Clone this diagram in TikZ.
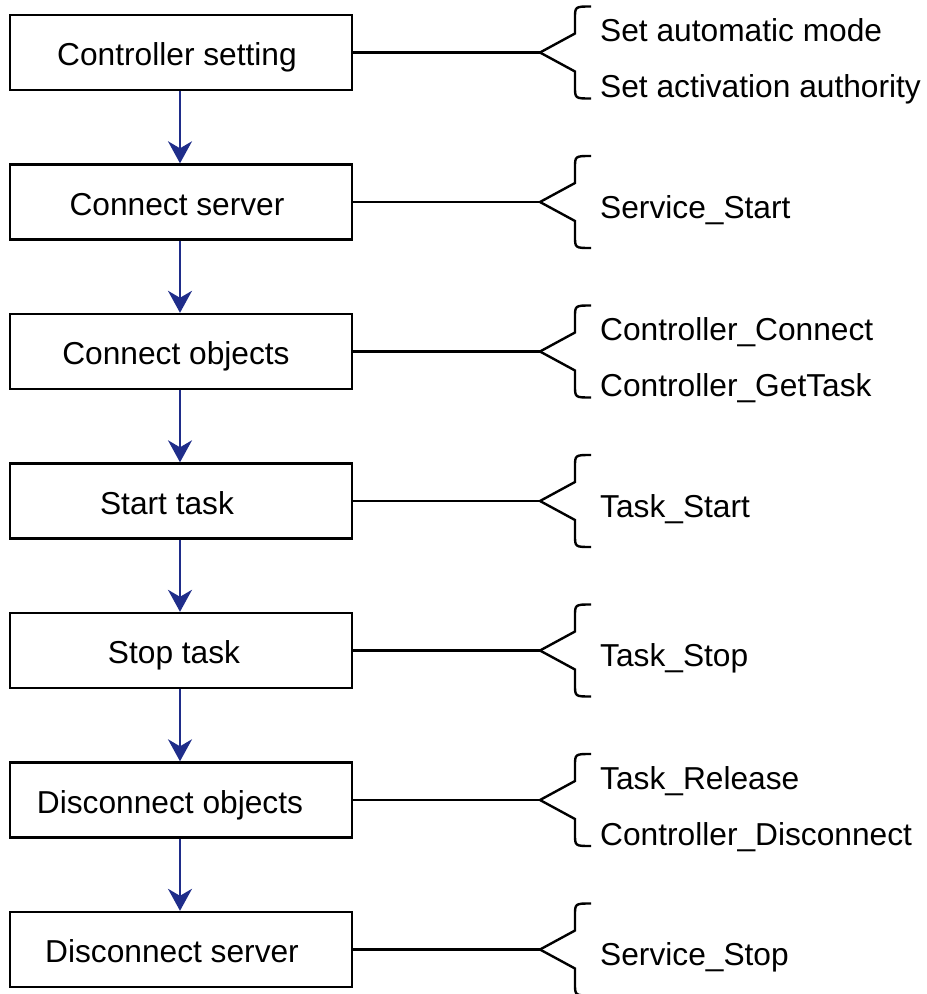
\documentclass[tikz,border=0pt]{standalone}
\usepackage{fontspec}
\setmainfont{Liberation Sans}
\usetikzlibrary{arrows.meta}
\definecolor{arrowblue}{HTML}{1F2D8A}
\begin{document}
\begin{tikzpicture}[x=1pt,y=-1pt,
  box/.style={draw=black,line width=2.4pt,minimum width=342pt,minimum height=75pt,inner sep=0pt},
  lbl/.style={font=\fontsize{31.7}{38}\selectfont,anchor=base,inner sep=0pt},
  item/.style={font=\fontsize{31.7}{38}\selectfont,anchor=base west,inner sep=0pt},
  flow/.style={draw=arrowblue,line width=2pt,-{Stealth[length=22pt,width=24pt,inset=7pt]}},
  link/.style={draw=black,line width=2.4pt},
  brace/.style={draw=black,line width=2.4pt,line join=miter}]
\useasboundingbox (0,0) rectangle (927,994);
\foreach \i/\c in {1/52.5,2/202,3/351.5,4/501,5/650.5,6/800,7/949.5}{
  \node[box] (b\i) at (181,\c) {};
  \coordinate (t\i) at (540,\c);
  \draw[brace] (t\i) -- ++(35,-19) -- ++(0,-15) .. controls ++(0,-12) .. ++(16,-12);
  \draw[brace] (t\i) -- ++(35,19) -- ++(0,15) .. controls ++(0,12) .. ++(16,12);
  \draw[link] (b\i.east) -- (t\i);
}
\node[lbl] (l1) at (177,65.5) {Controller setting};
\node[lbl] (l2) at (177,215) {Connect server};
\node[lbl] (l3) at (176,364.5) {Connect objects};
\node[lbl] (l4) at (167,514) {Start task};
\node[lbl] (l5) at (174,663.5) {Stop task};
\node[lbl] (l6) at (170,813) {Disconnect objects};
\node[lbl] (l7) at (172,962.5) {Disconnect server};
\node[item] (i1a) at (600,41.5) {Set automatic mode};
\node[item] (i1b) at (600,97.5) {Set activation authority};
\node[item] (i2) at (600,218) {Service\_Start};
\node[item] (i3a) at (600,340.5) {Controller\_Connect};
\node[item] (i3b) at (600,396.5) {Controller\_GetTask};
\node[item] (i4) at (600,517) {Task\_Start};
\node[item] (i5) at (600,666.5) {Task\_Stop};
\node[item] (i6a) at (600,789) {Task\_Release};
\node[item] (i6b) at (600,845) {Controller\_Disconnect};
\node[item] (i7) at (600,965.5) {Service\_Stop};
\foreach \a/\b in {1/2,2/3,3/4,4/5,5/6,6/7}{
  \draw[flow] (b\a.south -| 180,0) -- (b\b.north -| 180,0);
}
\end{tikzpicture}
\end{document}
